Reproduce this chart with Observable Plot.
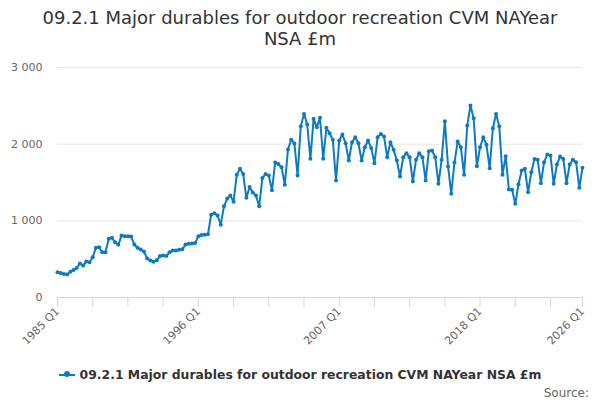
<!DOCTYPE html>
<html>
<head>
<meta charset="utf-8">
<script src="https://cdn.jsdelivr.net/npm/d3@7"></script>
<script src="https://cdn.jsdelivr.net/npm/@observablehq/plot@0.6"></script>
<style>
  body { margin: 0; width: 600px; height: 400px; background: #fff; font-family: "DejaVu Sans", sans-serif; position: relative; overflow: hidden; }
  #title { position: absolute; left: 0; top: 7px; width: 600px; text-align: center; font-size: 18px; line-height: 21px; color: #333; }
  #chart { position: absolute; left: 0; top: 50px; }
  #legend { position: absolute; left: 0; top: 366px; width: 600px; text-align: center; font-size: 12.4px; font-weight: bold; line-height: 18px; color: #333; }
  .sym { display: inline-block; position: relative; width: 16px; height: 2px; background: #0e7ac4; vertical-align: middle; margin-right: 5px; top: -1px; }
  .sym::after { content: ""; position: absolute; left: 5px; top: -3px; width: 6px; height: 6px; border-radius: 50%; background: #0e7ac4; }
  #source { position: absolute; right: 11px; top: 386px; font-size: 12px; color: #666; }
</style>
</head>
<body>
<div id="title">09.2.1 Major durables for outdoor recreation CVM NAYear<br>NSA £m</div>
<div id="chart"></div>
<div id="legend"><span class="sym"></span>09.2.1 Major durables for outdoor recreation CVM NAYear NSA £m</div>
<div id="source">Source:</div>
<script>
const seriesName = "09.2.1 Major durables for outdoor recreation CVM NAYear NSA £m";
const firstYear = 1985;
const values = [
  330, 320, 305, 300,     // 1985
  335, 360, 385, 445,     // 1986
  417, 469, 460, 526,     // 1987
  648, 656, 591, 591,     // 1988
  765, 778, 721, 687,     // 1989
  808, 800, 800, 795,     // 1990
  690, 650, 625, 600,     // 1991
  510, 482, 465, 485,     // 1992
  540, 548, 540, 590,     // 1993
  613, 613, 622, 630,     // 1994
  690, 700, 705, 710,     // 1995
  800, 815, 820, 825,     // 1996
  1080, 1100, 1070, 950,  // 1997
  1190, 1290, 1330, 1250, // 1998
  1600, 1680, 1610, 1300, // 1999
  1440, 1370, 1330, 1190, // 2000
  1560, 1610, 1590, 1400, // 2001
  1760, 1740, 1700, 1470, // 2002
  1930, 2058, 2010, 1590, // 2003
  2235, 2395, 2256, 1809, // 2004
  2330, 2221, 2343, 1809, // 2005
  2213, 2143, 2056, 1526, // 2006
  2047, 2125, 2012, 1786, // 2007
  2026, 2090, 2012, 1786, // 2008
  1960, 2047, 1950, 1751, // 2009
  2090, 2134, 2099, 1829, // 2010
  2026, 1926, 1786, 1578, // 2011
  1829, 1882, 1829, 1513, // 2012
  1796, 1882, 1829, 1526, // 2013
  1908, 1917, 1829, 1483, // 2014
  1796, 2300, 1710, 1352, // 2015
  1760, 2034, 1960, 1600, // 2016
  2243, 2504, 2338, 1712, // 2017
  1960, 2090, 1991, 1686, // 2018
  2208, 2395, 2234, 1600, // 2019
  1843, 1408, 1406, 1222, // 2020
  1477, 1656, 1678, 1373, // 2021
  1634, 1808, 1796, 1491, // 2022
  1765, 1865, 1852, 1483, // 2023
  1735, 1839, 1808, 1491, // 2024
  1735, 1796, 1765, 1431, // 2025
  1691                    // 2026
];
const quarters = values.map((_, i) => `${firstYear + Math.floor(i / 4)} Q${(i % 4) + 1}`);
const tickLabels = ["1985 Q1", "1996 Q1", "2007 Q1", "2018 Q1", "2026 Q1"];
const yTicks = [0, 1000, 2000, 3000];

const tickCats = quarters.filter((q, i) => i % 11 === 0 || i === quarters.length - 1);
const data = quarters.map((q, i) => ({quarter: q, value: values[i]}));
const color = "#0e7ac4";
const fmt = d => d3.format(",")(d).replace(/,/g, " ");

const chart = Plot.plot({
  width: 600,
  height: 310,
  marginLeft: 57,
  marginRight: 18,
  marginTop: 17,
  marginBottom: 63,
  style: {fontFamily: "DejaVu Sans, sans-serif", fontSize: "11px", color: "#666", background: "white"},
  x: {type: "point", domain: quarters, padding: 0},
  y: {domain: [0, 3000]},
  marks: [
    Plot.gridY(yTicks.filter(d => d > 0), {stroke: "#e6e6e6", strokeOpacity: 1}),
    Plot.axisY(yTicks, {tickSize: 0, tickPadding: 15, tickFormat: fmt, fill: "#666", label: null, fontSize: 11}),
    Plot.ruleY([0], {stroke: "#ccd6eb"}),
    Plot.axisX(tickCats, {tickSize: 10, stroke: "#ccd6eb", strokeOpacity: 1, tickRotate: -45, tickPadding: 2,
      tickFormat: d => tickLabels.includes(d) ? d : "", fill: "#666", label: null, fontSize: 11}),
    Plot.line(data, {x: "quarter", y: "value", stroke: color, strokeWidth: 2}),
    Plot.dot(data, {x: "quarter", y: "value", fill: color, r: 2})
  ]
});
document.getElementById("chart").appendChild(chart);
</script>
</body>
</html>
